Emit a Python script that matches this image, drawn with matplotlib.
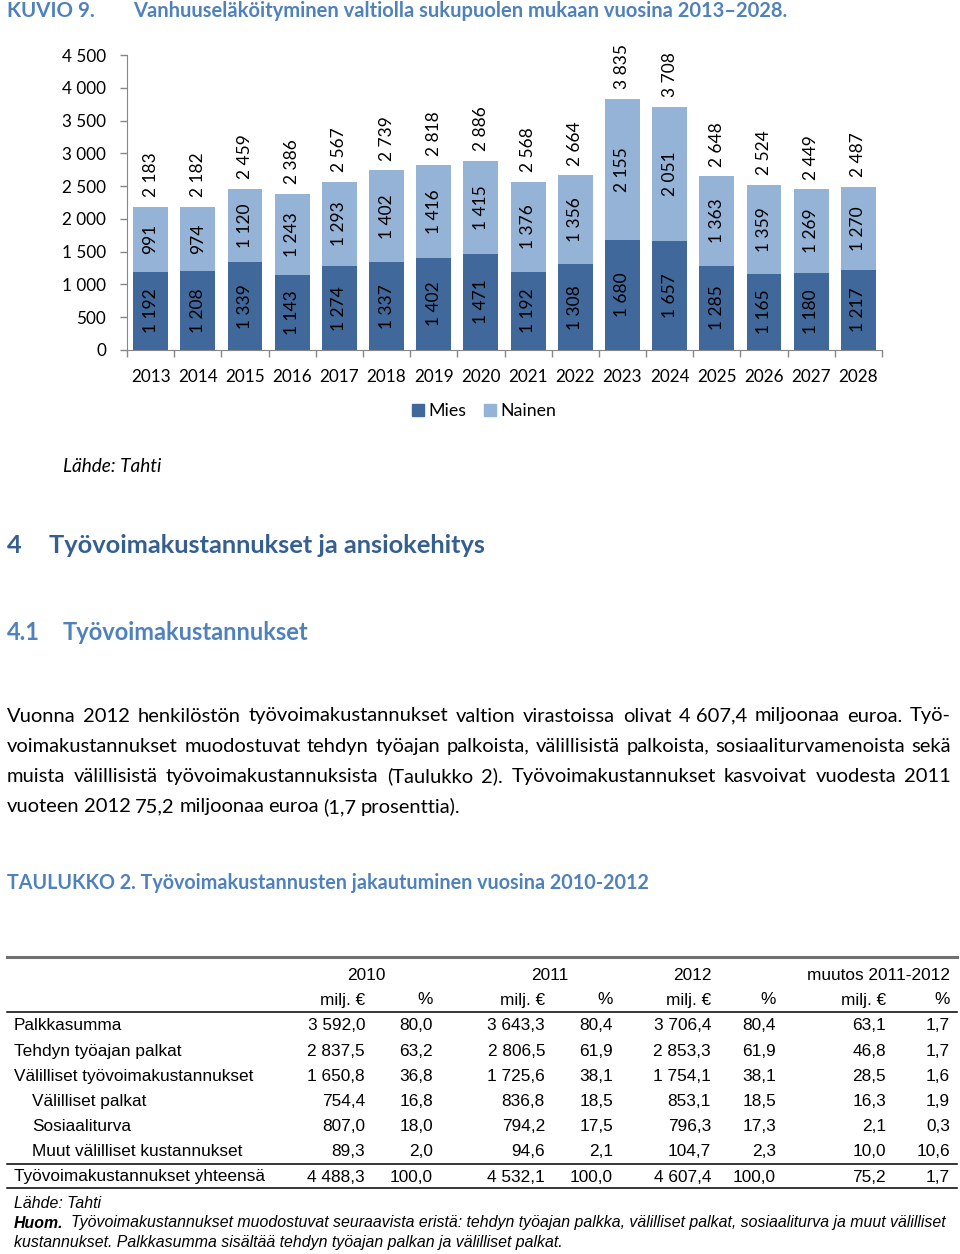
import matplotlib
matplotlib.use("Agg")
import matplotlib.pyplot as plt
from matplotlib.patches import Patch
from matplotlib.ticker import FuncFormatter, MultipleLocator, FixedLocator

# data
years = [str(y) for y in range(2013, 2029)]
mies = [1192, 1208, 1339, 1143, 1274, 1337, 1402, 1471, 1192, 1308, 1680, 1657, 1285, 1165, 1180, 1217]
nainen = [991, 974, 1120, 1243, 1293, 1402, 1416, 1415, 1376, 1356, 2155, 2051, 1363, 1359, 1269, 1270]
yhteensa = [2183, 2182, 2459, 2386, 2567, 2739, 2818, 2886, 2568, 2664, 3835, 3708, 2648, 2524, 2449, 2487]

row_labels = ["Palkkasumma", "Tehdyn työajan palkat", "Välilliset työvoimakustannukset",
              "Välilliset palkat", "Sosiaaliturva", "Muut välilliset kustannukset",
              "Työvoimakustannukset yhteensä"]
indent = [False, False, False, True, True, True, False]
v2010 = ["3 592,0", "2 837,5", "1 650,8", "754,4", "807,0", "89,3", "4 488,3"]
p2010 = ["80,0", "63,2", "36,8", "16,8", "18,0", "2,0", "100,0"]
v2011 = ["3 643,3", "2 806,5", "1 725,6", "836,8", "794,2", "94,6", "4 532,1"]
p2011 = ["80,4", "61,9", "38,1", "18,5", "17,5", "2,1", "100,0"]
v2012 = ["3 706,4", "2 853,3", "1 754,1", "853,1", "796,3", "104,7", "4 607,4"]
p2012 = ["80,4", "61,9", "38,1", "18,5", "17,3", "2,3", "100,0"]
vmuut = ["63,1", "46,8", "28,5", "16,3", "2,1", "10,0", "75,2"]
pmuut = ["1,7", "1,7", "1,6", "1,9", "0,3", "10,6", "1,7"]

para = ["Vuonna 2012 henkilöstön työvoimakustannukset valtion virastoissa olivat 4\u00a0607,4 miljoonaa euroa. Työ-",
        "voimakustannukset muodostuvat tehdyn työajan palkoista, välillisistä palkoista, sosiaaliturvamenoista sekä",
        "muista välillisistä työvoimakustannuksista (Taulukko 2). Työvoimakustannukset kasvoivat vuodesta 2011",
        "vuoteen 2012 75,2 miljoonaa euroa (1,7 prosenttia)."]

DARK = "#41689A"
LIGHT = "#95B3D7"
BLUE = "#4F81BD"
NAVY = "#365F91"
CHART_FONT = "Lato"
TAB_FONT = "Liberation Sans"

W, H = 960, 1254
fig = plt.figure(figsize=(W / 100, H / 100), dpi=100)


def P(x, y):
    return x / W, 1 - y / H


def ftext(x, y, s, **kw):
    return fig.text(*P(x, y), s, **kw)


fmt = FuncFormatter(lambda v, p: f"{int(v):,}".replace(",", " "))

# title
ftext(7, 11, "KUVIO 9.", fontsize=14.8, fontweight="bold", color=BLUE, family=CHART_FONT, va="center")
ftext(133, 11, "Vanhuuseläköityminen valtiolla sukupuolen mukaan vuosina 2013–2028.",
      fontsize=14.5, fontweight="bold", color=BLUE, family=CHART_FONT, va="center")

# chart
ax = fig.add_axes([127 / W, 1 - 350 / H, 755 / W, 295 / H])
x = list(range(len(years)))
ax.bar(x, mies, width=0.74, color=DARK, label="Mies")
ax.bar(x, nainen, width=0.74, bottom=mies, color=LIGHT, label="Nainen")
for i in x:
    ax.text(i, mies[i] / 2, fmt(mies[i]), rotation=90, ha="center", va="center",
            fontsize=12.5, family=CHART_FONT, color="black")
    ax.text(i, mies[i] + nainen[i] / 2, fmt(nainen[i]), rotation=90, ha="center", va="center",
            fontsize=12.5, family=CHART_FONT, color="black")
    ax.annotate(fmt(yhteensa[i]), (i, yhteensa[i]), xytext=(0, 7), textcoords="offset points",
                rotation=90, ha="center", va="bottom", fontsize=12.5, family=CHART_FONT,
                annotation_clip=False)
ax.set_xlim(-0.5, len(years) - 0.5)
ax.set_ylim(0, 4500)
ax.yaxis.set_major_locator(MultipleLocator(500))
ax.yaxis.set_major_formatter(fmt)
ax.set_xticks(x)
ax.set_xticklabels(years)
ax.xaxis.set_minor_locator(FixedLocator([i - 0.5 for i in range(len(years) + 1)]))
ax.tick_params(axis="x", which="major", length=0, pad=14)
ax.tick_params(axis="x", which="minor", length=5, color="#868686", width=1)
ax.tick_params(axis="y", length=5, color="#868686", width=1, pad=10)
for lab in ax.get_xticklabels() + ax.get_yticklabels():
    lab.set_fontfamily(CHART_FONT)
    lab.set_fontsize(12.3)
for s in ["top", "right"]:
    ax.spines[s].set_visible(False)
for s in ["left", "bottom"]:
    ax.spines[s].set_color("#868686")
ax.patch.set_visible(False)

fig.legend(handles=[Patch(color=DARK, label="Mies"), Patch(color=LIGHT, label="Nainen")],
           loc="center", bbox_to_anchor=P(484, 411), ncol=2, frameon=False,
           prop={"family": CHART_FONT, "size": 12.8}, handlelength=0.65, handleheight=0.65,
           handletextpad=0.25, columnspacing=1.0)

ftext(63, 466, "Lähde: Tahti", fontsize=13.7, style="italic", family=CHART_FONT, va="center")

# headings
ftext(7, 546, "4", fontsize=18.3, fontweight="bold", color=NAVY, family=CHART_FONT, va="center")
ftext(49, 546, "Työvoimakustannukset ja ansiokehitys", fontsize=18.3, fontweight="bold",
      color=NAVY, family=CHART_FONT, va="center")
ftext(7, 633, "4.1", fontsize=17, fontweight="bold", color=BLUE, family=CHART_FONT, va="center")
ftext(63, 633, "Työvoimakustannukset", fontsize=17, fontweight="bold", color=BLUE,
      family=CHART_FONT, va="center")

# justified paragraph
renderer = fig.canvas.get_renderer()
x0, x1 = 7, 951
for li, line in enumerate(para):
    y = 716 + li * 30.3
    words = line.split(" ")
    objs = [ftext(x0, y, w.replace("\u00a0", " "), fontsize=14.5, family=CHART_FONT, va="center")
            for w in words]
    widths = [o.get_window_extent(renderer).width for o in objs]
    if li < len(para) - 1:
        gap = (x1 - x0 - sum(widths)) / (len(words) - 1)
    else:
        gap = objs[0].get_fontsize() * 0.3
    cx = x0
    for o, w in zip(objs, widths):
        o.set_position(P(cx, y))
        cx += w + gap

ftext(7, 883, "TAULUKKO 2. Työvoimakustannusten jakautuminen vuosina 2010-2012", fontsize=14.2,
      fontweight="bold", color=BLUE, family=CHART_FONT, va="center")

# table
tfs = 12.4
fig.add_artist(plt.Line2D([7 / W, 957 / W], [1 - 957 / H] * 2, color="#707070", lw=2.2))
for yy in (1012, 1164, 1188):
    fig.add_artist(plt.Line2D([7 / W, 957 / W], [1 - yy / H] * 2, color="black", lw=1.1))
for s, cxp in [("2010", 366), ("2011", 550), ("2012", 692)]:
    ftext(cxp, 975, s, fontsize=tfs, family=TAB_FONT, ha="center", va="center")
ftext(950, 975, "muutos 2011-2012", fontsize=tfs, family=TAB_FONT, ha="right", va="center")
cols = [(365, v2010), (433, p2010), (545, v2011), (613, p2011),
        (711, v2012), (776, p2012), (886, vmuut), (950, pmuut)]
for k, (rx, _) in enumerate(cols):
    ftext(rx, 1000, "milj. €" if k % 2 == 0 else "%", fontsize=tfs, family=TAB_FONT,
          ha="right", va="center")
for r, lab in enumerate(row_labels):
    y = 1026 + r * 25.1 if r < 6 else 1177
    ftext(32 if indent[r] else 14, y, lab, fontsize=tfs, family=TAB_FONT, va="center")
    for rx, vals in cols:
        ftext(rx, y, vals[r], fontsize=tfs, family=TAB_FONT, ha="right", va="center")

nfs = 11.4
ftext(14, 1204, "Lähde: Tahti", fontsize=nfs, style="italic", family=TAB_FONT, va="center")
ftext(14, 1223, "Huom.", fontsize=nfs, style="italic", fontweight="bold", family=TAB_FONT, va="center")
ftext(71, 1223, "Työvoimakustannukset muodostuvat seuraavista eristä: tehdyn työajan palkka, "
      "välilliset palkat, sosiaaliturva ja muut välilliset", fontsize=nfs, style="italic",
      family=TAB_FONT, va="center")
ftext(14, 1242, "kustannukset. Palkkasumma sisältää tehdyn työajan palkan ja välilliset palkat.",
      fontsize=nfs, style="italic", family=TAB_FONT, va="center")

fig.savefig("out.png", dpi=100)
